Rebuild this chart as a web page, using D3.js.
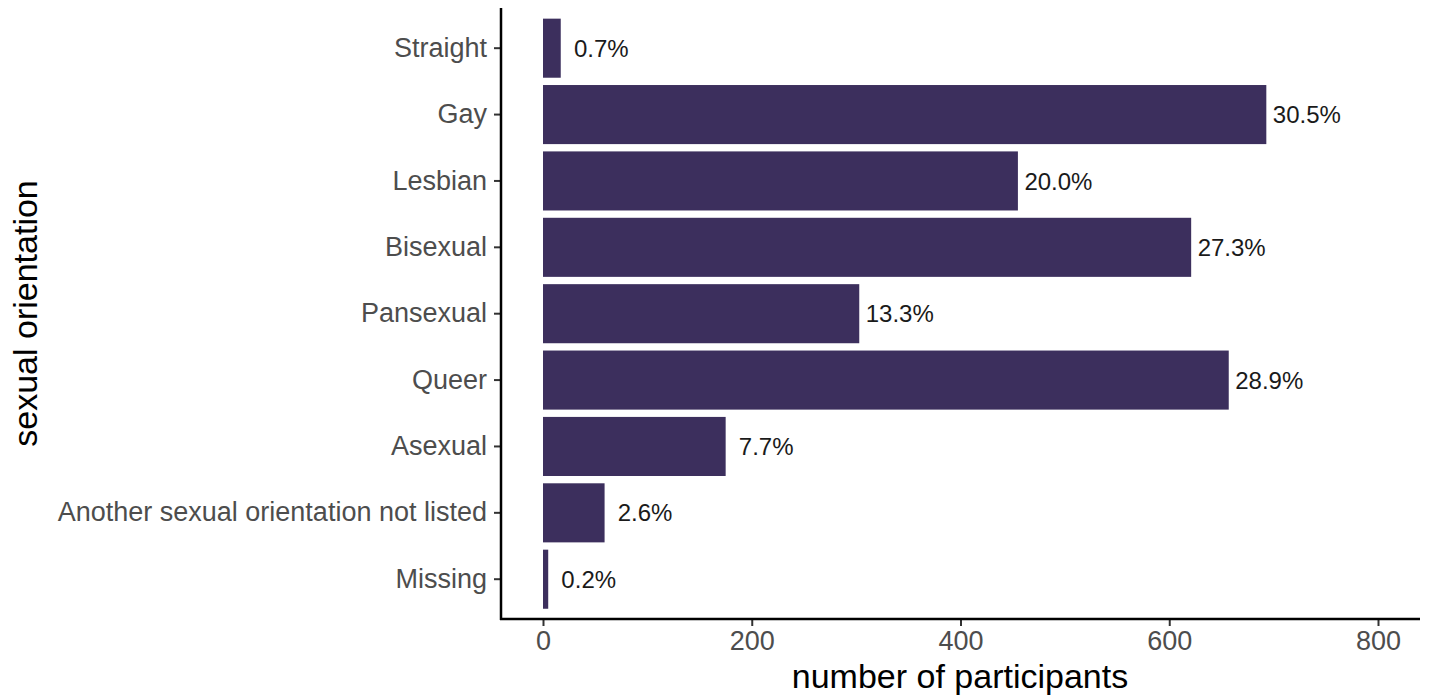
<!DOCTYPE html>
<html>
<head>
<meta charset="utf-8">
<script src="https://cdn.jsdelivr.net/npm/d3@7"></script>
<style>
  html, body { margin: 0; padding: 0; background: #fff; }
  svg { display: block; font-family: "Liberation Sans", Arial, Helvetica, sans-serif; }
</style>
</head>
<body>
<svg id="chart" width="1429" height="700"></svg>
<script>
const categories = ["Straight", "Gay", "Lesbian", "Bisexual", "Pansexual", "Queer", "Asexual", "Another sexual orientation not listed", "Missing"];
const counts = [17, 693, 455, 621, 303, 657, 175, 59, 5];
const percentLabels = ["0.7%", "30.5%", "20.0%", "27.3%", "13.3%", "28.9%", "7.7%", "2.6%", "0.2%"];
const xTicks = [0, 200, 400, 600, 800];
const xTitle = "number of participants";
const yTitle = "sexual orientation";

const svg = d3.select("#chart");
const panel = { left: 501, right: 1420, top: 8, bottom: 619 };

const x = d3.scaleLinear().domain([0, 800]).range([543, 1378]);
const y = d3.scaleBand().domain(categories).range([15, 612.4]).paddingInner(0.11).paddingOuter(0.055);

const barColor = "#3c2f5d";
const fontFam = "'Liberation Sans', Arial, Helvetica, sans-serif";

// bars
svg.append("g").selectAll("rect")
  .data(categories)
  .join("rect")
  .attr("x", x(0))
  .attr("y", d => y(d))
  .attr("width", (d, i) => x(counts[i]) - x(0))
  .attr("height", y.bandwidth())
  .attr("fill", barColor);

// bar labels (centred a fixed distance past the bar end)
svg.append("g").selectAll("text")
  .data(categories)
  .join("text")
  .attr("x", (d, i) => x(counts[i]) + 40.5)
  .attr("y", d => y(d) + y.bandwidth() / 2)
  .attr("dy", "0.36em")
  .attr("text-anchor", "middle")
  .attr("font-size", 24)
  .attr("fill", "#1a1a1a")
  .text((d, i) => percentLabels[i]);

// y axis
const yAxis = d3.axisLeft(y).tickSize(7).tickPadding(7);
const gy = svg.append("g").attr("transform", `translate(${panel.left},0)`).call(yAxis);
gy.select(".domain").remove();
gy.selectAll(".tick line").attr("stroke", "#333").attr("stroke-width", 2);
gy.selectAll(".tick text").attr("font-size", 27).attr("fill", "#4d4d4d").attr("font-family", fontFam);
svg.append("line").attr("x1", panel.left).attr("x2", panel.left).attr("y1", panel.top).attr("y2", panel.bottom + 1)
  .attr("stroke", "#000").attr("stroke-width", 2.5);

// x axis
const xAxis = d3.axisBottom(x).tickValues(xTicks).tickSize(7).tickPadding(5).tickFormat(d3.format("d"));
const gx = svg.append("g").attr("transform", `translate(0,${panel.bottom})`).call(xAxis);
gx.select(".domain").remove();
gx.selectAll(".tick line").attr("stroke", "#333").attr("stroke-width", 2);
gx.selectAll(".tick text").attr("font-size", 27).attr("fill", "#4d4d4d").attr("font-family", fontFam);
svg.append("line").attr("x1", panel.left - 1).attr("x2", panel.right).attr("y1", panel.bottom).attr("y2", panel.bottom)
  .attr("stroke", "#000").attr("stroke-width", 2.5);

// titles
svg.append("text")
  .attr("x", 960)
  .attr("y", 688)
  .attr("text-anchor", "middle")
  .attr("font-size", 34)
  .attr("fill", "#000")
  .text(xTitle);

svg.append("text")
  .attr("transform", `translate(37,${(panel.top + panel.bottom) / 2}) rotate(-90)`)
  .attr("text-anchor", "middle")
  .attr("font-size", 34)
  .attr("fill", "#000")
  .text(yTitle);
</script>
</body>
</html>
